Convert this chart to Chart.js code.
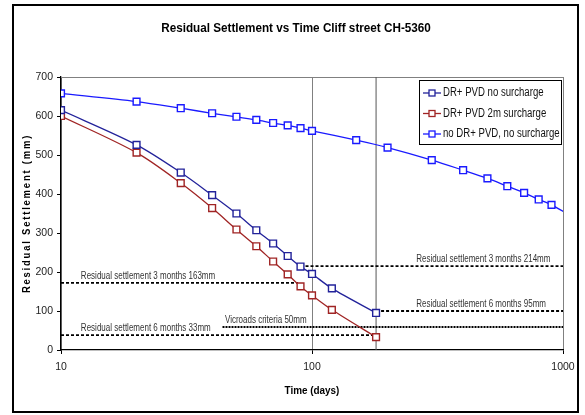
<!DOCTYPE html>
<html>
<head>
<meta charset="utf-8">
<script src="https://cdn.jsdelivr.net/npm/chart.js@4.4.1/dist/chart.umd.min.js"></script>
<style>
  html, body { margin: 0; padding: 0; background: #fff; }
  #wrap { width: 585px; height: 415px; }
</style>
</head>
<body>
<div id="wrap"><canvas id="settlementChart" width="585" height="415"></canvas></div>
<script>
const FONT = '"Liberation Sans", Arial, sans-serif';

// time in days (log axis)
const days = [10, 20, 30, 40, 50, 60, 70, 80, 90, 100, 120, 180];
const drPvdNoSurcharge = [615, 526, 455, 397, 350, 307, 273, 241, 214, 195, 158, 95];
const drPvd2mSurcharge = [600, 506, 428, 364, 309, 266, 227, 194, 163, 140, 103, 33];

const noDrDays = [10, 20, 30, 40, 50, 60, 70, 80, 90, 100, 150, 200, 300, 400, 500, 600, 700, 800, 900, 1100];
const noDrValues = [658, 637, 620, 607, 598, 590, 582, 576, 569, 562, 538, 519, 487, 461, 440, 420, 403, 386, 372, 340];

const seriesLabels = ['DR+ PVD no surcharge', 'DR+ PVD 2m surcharge', 'no DR+ PVD, no surcharge'];

// reference lines (horizontal) and their notes
const refLabels = [
  'Residual settlement 3 months 163mm',
  'Residual settlement 6 months 33mm',
  'Vicroads criteria 50mm',
  'Residual settlement 3 months 214mm',
  'Residual settlement 6 months 95mm'
];
const refStart = [10, 10, 44, 90, 180];
const refEnd = [88, 175, 1000, 1000, 1000];
const refLevel = [172, 38, 59, 215, 100];
const refNoteDay = [12, 12, 45, 260, 260];

const sixMonthDay = 180;
const xTicks = [10, 100, 1000];

const toXY = (xs, ys) => xs.map((x, i) => ({ x: x, y: ys[i] }));

const seriesStyle = (color) => ({
  borderColor: color,
  backgroundColor: '#fff',
  borderWidth: 1.3,
  pointStyle: 'rect',
  pointRadius: 4.8,
  pointBorderWidth: 1.4,
  pointBackgroundColor: '#fff',
  pointBorderColor: color,
  tension: 0.3
});

const datasets = [
  Object.assign({ label: seriesLabels[0], data: toXY(days, drPvdNoSurcharge) }, seriesStyle('#22229a')),
  Object.assign({ label: seriesLabels[1], data: toXY(days, drPvd2mSurcharge) }, seriesStyle('#a02424')),
  Object.assign({ label: seriesLabels[2], data: toXY(noDrDays, noDrValues) }, seriesStyle('#1a1aff'), {
    pointRadius: ctx => (noDrDays[ctx.dataIndex] > 1000 ? 0 : 4.8)
  })
];

refLabels.forEach((lbl, i) => {
  const vic = i === 2;
  datasets.push({
    label: lbl,
    data: [{ x: refStart[i], y: refLevel[i] }, { x: refEnd[i], y: refLevel[i] }],
    borderColor: '#000',
    borderWidth: vic ? 2.2 : 1.8,
    borderDash: vic ? [2, 1] : [3, 2],
    pointRadius: 0,
    tension: 0
  });
});

datasets.push({
  label: '6 months',
  data: [{ x: sixMonthDay, y: 0 }, { x: sixMonthDay, y: 700 }],
  borderColor: '#555',
  borderWidth: 1,
  pointRadius: 0,
  tension: 0
});

// narrow text: squeeze horizontally (no condensed font installed)
function squeezedText(ctx, text, x, y, sx) {
  ctx.save();
  ctx.translate(x, y);
  ctx.scale(sx, 1);
  ctx.fillText(text, 0, 0);
  ctx.restore();
}

// text, frames and legend
const decorations = {
  id: 'decorations',
  beforeDatasetsDraw(chart) {
    const { ctx, chartArea: a } = chart;
    ctx.save();
    ctx.strokeStyle = '#808080';
    ctx.lineWidth = 1;
    ctx.beginPath();
    ctx.moveTo(a.left, a.top + 0.5);
    ctx.lineTo(a.right, a.top + 0.5);
    ctx.stroke();
    ctx.restore();
  },
  afterDraw(chart) {
    const { ctx, chartArea: a, scales } = chart;
    ctx.save();

    // outer frame
    ctx.strokeStyle = '#000';
    ctx.lineWidth = 2;
    ctx.strokeRect(13, 5, 565, 407);

    // title
    ctx.fillStyle = '#000';
    ctx.textAlign = 'center';
    ctx.textBaseline = 'middle';
    ctx.font = 'bold 13px ' + FONT;
    squeezedText(ctx, 'Residual Settlement vs Time Cliff street CH-5360', 296, 28, 0.9);

    // axis titles
    ctx.font = 'bold 11px ' + FONT;
    squeezedText(ctx, 'Time (days)', (a.left + a.right) / 2, 391, 0.9);
    ctx.save();
    ctx.translate(27, (a.top + a.bottom) / 2);
    ctx.rotate(-Math.PI / 2);
    ctx.font = 'bold 10.5px ' + FONT;
    ctx.letterSpacing = '2px';
    squeezedText(ctx, 'Residual Settlement (mm)', 0, 0, 0.9);
    ctx.restore();

    // notes above reference lines
    ctx.textAlign = 'left';
    ctx.textBaseline = 'alphabetic';
    ctx.fillStyle = '#333';
    ctx.font = '10px ' + FONT;
    refLabels.forEach((lbl, i) => {
      const x = scales.x.getPixelForValue(refNoteDay[i]);
      const y = scales.y.getPixelForValue(refLevel[i]) - 4;
      squeezedText(ctx, lbl, x, y, 0.8);
    });

    // legend
    const w = 142, h = 64;
    const lx = a.right - 144, ly = a.top + 3;
    ctx.fillStyle = '#fff';
    ctx.fillRect(lx, ly, w, h);
    ctx.strokeStyle = '#000';
    ctx.lineWidth = 1;
    ctx.strokeRect(lx + 0.5, ly + 0.5, w, h);
    ctx.font = '12px ' + FONT;
    ctx.textBaseline = 'middle';
    chart.data.datasets.slice(0, 3).forEach((ds, i) => {
      const cy = ly + 13 + i * 20.5;
      ctx.strokeStyle = ds.borderColor;
      ctx.lineWidth = 1.3;
      ctx.beginPath();
      ctx.moveTo(lx + 4, cy);
      ctx.lineTo(lx + 22, cy);
      ctx.stroke();
      ctx.fillStyle = '#fff';
      ctx.fillRect(lx + 10, cy - 3, 6, 6);
      ctx.strokeRect(lx + 10, cy - 3, 6, 6);
      ctx.fillStyle = '#111';
      squeezedText(ctx, ds.label, lx + 24, cy, 0.8);
    });
    ctx.restore();
  }
};

new Chart(document.getElementById('settlementChart').getContext('2d'), {
  type: 'line',
  data: { datasets: datasets },
  options: {
    responsive: false,
    animation: false,
    layout: { padding: { left: 0, right: 22, top: 77, bottom: 0 } },
    plugins: {
      legend: { display: false },
      tooltip: { enabled: false },
      title: { display: false }
    },
    scales: {
      x: {
        type: 'logarithmic',
        min: 10,
        max: 1000,
        afterBuildTicks: s => { s.ticks = xTicks.map(v => ({ value: v })); },
        afterFit: s => { s.height = 65; },
        ticks: {
          callback: v => String(v),
          color: '#222',
          font: { family: FONT, size: 10.5 },
          padding: 7,
          maxRotation: 0
        },
        grid: { color: '#808080', tickColor: '#000', tickLength: 4, lineWidth: 1 },
        border: { color: '#000', width: 1.3 }
      },
      y: {
        min: 0,
        max: 700,
        afterFit: s => { s.width = 61; },
        ticks: {
          stepSize: 100,
          color: '#222',
          font: { family: FONT, size: 10.5 },
          padding: 4
        },
        grid: { drawOnChartArea: false, color: '#000', tickLength: 4 },
        border: { color: '#000', width: 1.3 }
      }
    }
  },
  plugins: [decorations]
});
</script>
</body>
</html>
